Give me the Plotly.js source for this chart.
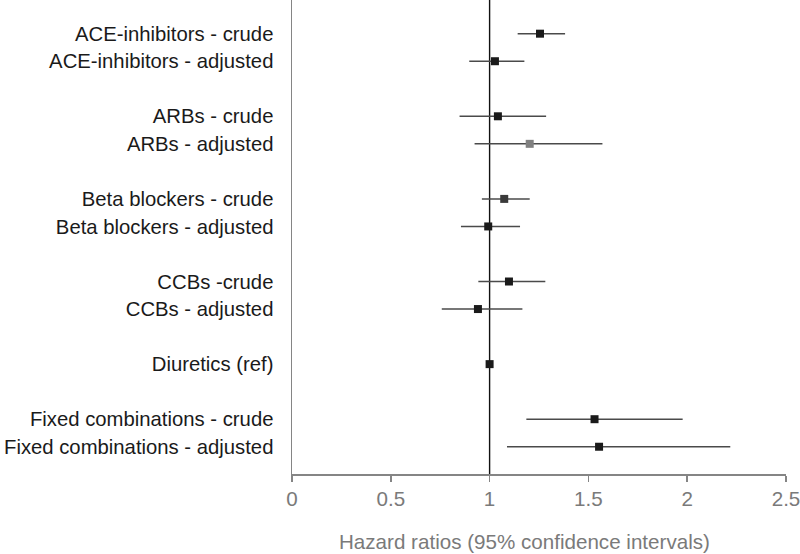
<!DOCTYPE html>
<html>
<head>
<meta charset="utf-8">
<script src="https://cdn.plot.ly/plotly-3.0.1.min.js"></script>
<style>html,body{margin:0;padding:0;background:#fff;}#chart{width:800px;height:554px;}</style>
</head>
<body>
<div id="chart"></div>
<script>
// ---- data ----
const labels = [
  "ACE-inhibitors - crude", "ACE-inhibitors - adjusted",
  "ARBs - crude", "ARBs - adjusted",
  "Beta blockers - crude", "Beta blockers - adjusted",
  "CCBs -crude", "CCBs - adjusted",
  "Diuretics (ref)",
  "Fixed combinations - crude", "Fixed combinations - adjusted"
];
const drugClass = ["ACE", "ACE", "ARB", "ARB", "BB", "BB", "CCB", "CCB", "DIU", "FIX", "FIX"];
const hazardRatio = [1.255, 1.027, 1.042, 1.203, 1.074, 0.993, 1.098, 0.941, 1.0, 1.531, 1.554];
const ciLower     = [1.142, 0.897, 0.848, 0.924, 0.961, 0.855, 0.943, 0.758, 1.0, 1.186, 1.088];
const ciUpper     = [1.382, 1.176, 1.286, 1.571, 1.203, 1.154, 1.282, 1.166, 1.0, 1.977, 2.218];
const xTicks = [0, 0.5, 1, 1.5, 2, 2.5];
const xTickText = ["0", "0.5", "1", "1.5", "2", "2.5"];
const axisTitle = "Hazard ratios (95% confidence intervals)";

// ---- row layout: one blank row between drug classes ----
const rowY = [];
let gap = 0;
for (let i = 0; i < labels.length; i++) {
  if (i > 0 && drugClass[i] !== drugClass[i - 1]) gap++;
  rowY.push(i + gap);
}

// ---- styles ----
const markerColors = labels.map((l, i) => i === 3 ? '#808080' : (i === 4 ? '#3a3a3a' : '#1a1a1a'));
const FONT = 'Liberation Sans, Arial, sans-serif';

const trace = {
  type: 'scatter',
  mode: 'markers',
  x: hazardRatio,
  y: rowY,
  marker: {symbol: 'square', size: 8, color: markerColors, line: {width: 0}},
  error_x: {
    type: 'data', symmetric: false,
    array: hazardRatio.map((v, i) => ciUpper[i] - v),
    arrayminus: hazardRatio.map((v, i) => v - ciLower[i]),
    color: '#4a4a4a', thickness: 1.5, width: 0
  },
  showlegend: false,
  hoverinfo: 'skip'
};

const layout = {
  width: 800, height: 554,
  margin: {l: 291.7, r: 14.3, t: 0, b: 79.7},
  paper_bgcolor: '#fff', plot_bgcolor: '#fff',
  font: {family: FONT, size: 20.3, color: '#1a1a1a'},
  xaxis: {
    range: [0, 2.5], tickvals: xTicks, ticktext: xTickText,
    showgrid: false, zeroline: false,
    showline: true, linecolor: '#858585', linewidth: 1.5,
    ticks: 'outside', ticklen: 6, tickwidth: 1.5, tickcolor: '#858585',
    tickfont: {family: FONT, size: 20.6, color: '#7a7a7a'},
    ticklabeloverflow: 'allow',
    fixedrange: true
  },
  yaxis: {
    range: [15.99, -1.223],
    tickvals: rowY, ticktext: labels,
    showgrid: false, zeroline: false,
    showline: true, linecolor: '#858585', linewidth: 1.5,
    ticks: 'outside', ticklen: 13, tickcolor: 'rgba(0,0,0,0)',
    tickfont: {family: FONT, size: 20.3, color: '#1a1a1a'},
    ticklabeloverflow: 'allow',
    fixedrange: true
  },
  shapes: [{
    type: 'line', xref: 'x', yref: 'paper', x0: 1, x1: 1, y0: 0, y1: 1,
    line: {color: '#111', width: 1.4}, layer: 'below'
  }],
  annotations: [{
    text: axisTitle, xref: 'paper', yref: 'paper',
    x: 0.471, y: -0.142, xanchor: 'center', yanchor: 'middle',
    showarrow: false, font: {family: FONT, size: 20.6, color: '#7a7a7a'}
  }]
};

Plotly.newPlot('chart', [trace], layout, {staticPlot: true, displayModeBar: false});
</script>
</body>
</html>
